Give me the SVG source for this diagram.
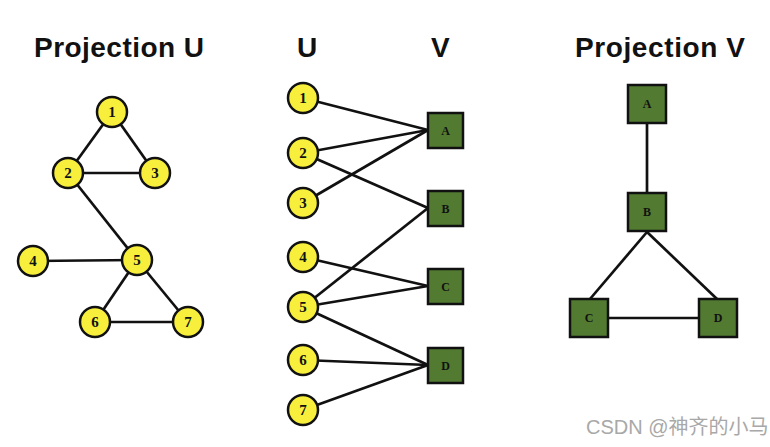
<svg xmlns="http://www.w3.org/2000/svg" width="770" height="447" viewBox="0 0 770 447">
<style>
.title{font-family:"Liberation Sans",Arial,sans-serif;font-weight:bold;font-size:28px;fill:#111}
.c{fill:#f7ef3c;stroke:#111;stroke-width:2.5}
.s{fill:#527a30;stroke:#111;stroke-width:2.5}
.lbl{font-family:"Liberation Serif","Times New Roman",serif;font-weight:bold;font-size:15px;fill:#111;text-anchor:middle;dominant-baseline:central}
.sl{font-size:12px}
.e{stroke:#111;stroke-width:2.7;fill:none}
.wm{font-family:"Liberation Sans","Noto Sans CJK SC",sans-serif;font-size:20px;fill:#a8a8a8}
</style>
<rect width="770" height="447" fill="#fff"/>
<text class="title" x="34" y="57" textLength="170" lengthAdjust="spacing">Projection U</text>
<text class="title" x="297" y="57">U</text>
<text class="title" x="431" y="57">V</text>
<text class="title" x="575" y="57" textLength="170" lengthAdjust="spacing">Projection V</text>

<g id="connectors">
  <!-- Projection U -->
  <line class="e" x1="112" y1="112" x2="68" y2="173"/>
  <line class="e" x1="112" y1="112" x2="155" y2="173"/>
  <line class="e" x1="68" y1="173" x2="155" y2="173"/>
  <line class="e" x1="68" y1="173" x2="137" y2="260"/>
  <line class="e" x1="33" y1="261" x2="137" y2="260"/>
  <line class="e" x1="137" y1="260" x2="95" y2="322"/>
  <line class="e" x1="137" y1="260" x2="188" y2="322"/>
  <line class="e" x1="95" y1="322" x2="188" y2="322"/>
  <!-- Bipartite -->
  <line class="e" x1="303" y1="98" x2="428" y2="130"/>
  <line class="e" x1="303" y1="153" x2="428" y2="130"/>
  <line class="e" x1="303" y1="203" x2="428" y2="130"/>
  <line class="e" x1="303" y1="153" x2="428" y2="208"/>
  <line class="e" x1="303" y1="307" x2="428" y2="208"/>
  <line class="e" x1="303" y1="257" x2="428" y2="286"/>
  <line class="e" x1="303" y1="307" x2="428" y2="286"/>
  <line class="e" x1="303" y1="307" x2="428" y2="365"/>
  <line class="e" x1="303" y1="360" x2="428" y2="365"/>
  <line class="e" x1="303" y1="410" x2="428" y2="365"/>
  <!-- Projection V -->
  <line class="e" x1="647" y1="104" x2="647" y2="212"/>
  <line class="e" x1="647" y1="232" x2="590" y2="299"/>
  <line class="e" x1="647" y1="232" x2="717" y2="299"/>
  <line class="e" x1="589" y1="318" x2="718" y2="318"/>
</g>

<g id="pu1"><circle class="c" cx="112" cy="112" r="15"/><text class="lbl" x="112" y="112">1</text></g>
<g id="pu2"><circle class="c" cx="68" cy="173" r="15"/><text class="lbl" x="68" y="173">2</text></g>
<g id="pu3"><circle class="c" cx="155" cy="173" r="15"/><text class="lbl" x="155" y="173">3</text></g>
<g id="pu4"><circle class="c" cx="33" cy="261" r="15"/><text class="lbl" x="33" y="261">4</text></g>
<g id="pu5"><circle class="c" cx="137" cy="260" r="15"/><text class="lbl" x="137" y="260">5</text></g>
<g id="pu6"><circle class="c" cx="95" cy="322" r="15"/><text class="lbl" x="95" y="322">6</text></g>
<g id="pu7"><circle class="c" cx="188" cy="322" r="15"/><text class="lbl" x="188" y="322">7</text></g>

<g id="u1"><circle class="c" cx="303" cy="98" r="15"/><text class="lbl" x="303" y="98">1</text></g>
<g id="u2"><circle class="c" cx="303" cy="153" r="15"/><text class="lbl" x="303" y="153">2</text></g>
<g id="u3"><circle class="c" cx="303" cy="203" r="15"/><text class="lbl" x="303" y="203">3</text></g>
<g id="u4"><circle class="c" cx="303" cy="257" r="15"/><text class="lbl" x="303" y="257">4</text></g>
<g id="u5"><circle class="c" cx="303" cy="307" r="15"/><text class="lbl" x="303" y="307">5</text></g>
<g id="u6"><circle class="c" cx="303" cy="360" r="15"/><text class="lbl" x="303" y="360">6</text></g>
<g id="u7"><circle class="c" cx="303" cy="410" r="15"/><text class="lbl" x="303" y="410">7</text></g>

<g id="vA"><rect class="s" x="428" y="113" width="35" height="35"/><text class="lbl sl" x="445.5" y="130.5">A</text></g>
<g id="vB"><rect class="s" x="428" y="191" width="35" height="35"/><text class="lbl sl" x="445.5" y="208.5">B</text></g>
<g id="vC"><rect class="s" x="428" y="269" width="35" height="35"/><text class="lbl sl" x="445.5" y="286.5">C</text></g>
<g id="vD"><rect class="s" x="428" y="348" width="35" height="35"/><text class="lbl sl" x="445.5" y="365.5">D</text></g>

<g id="pvA"><rect class="s" x="628" y="85" width="38" height="38"/><text class="lbl sl" x="647" y="104">A</text></g>
<g id="pvB"><rect class="s" x="628" y="193" width="38" height="38"/><text class="lbl sl" x="647" y="212">B</text></g>
<g id="pvC"><rect class="s" x="570" y="299" width="38" height="38"/><text class="lbl sl" x="589" y="318">C</text></g>
<g id="pvD"><rect class="s" x="699" y="299" width="38" height="38"/><text class="lbl sl" x="718" y="318">D</text></g>

<text class="wm" x="586" y="434">CSDN @神齐的小马</text>
</svg>
